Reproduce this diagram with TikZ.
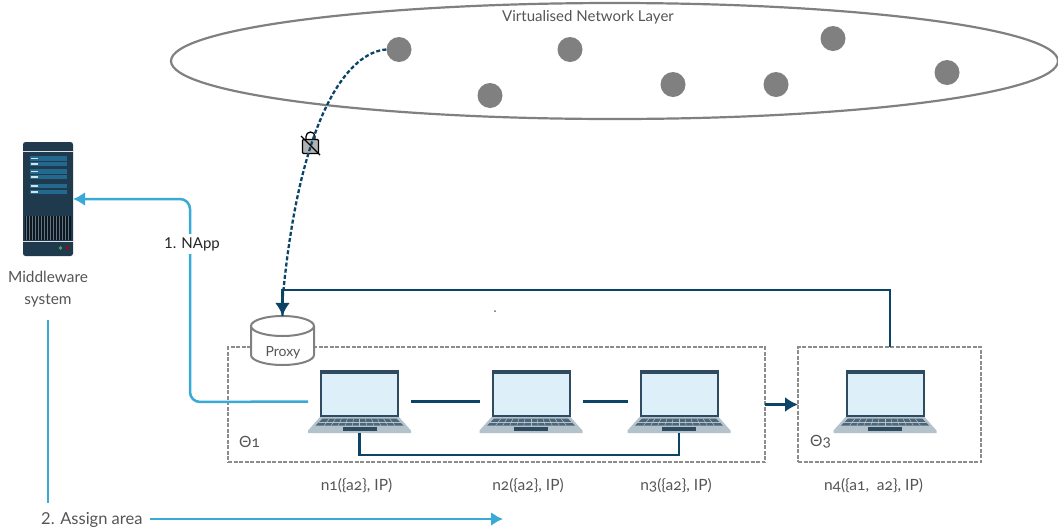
\documentclass[tikz,border=0pt]{standalone}
\usepackage{fontspec}
\setmainfont{Lato}
\newfontfamily\oldnum[Numbers=OldStyle]{Lato}
\usetikzlibrary{arrows.meta,shapes.geometric}
\definecolor{navy}{HTML}{0B4467}
\definecolor{skyb}{HTML}{39A9D6}
\definecolor{greyl}{HTML}{808080}
\definecolor{greyd}{HTML}{8C8C8C}
\definecolor{txt}{HTML}{555555}
\definecolor{lapdark}{HTML}{2F4B62}
\definecolor{lapscr}{HTML}{DDEFF8}
\definecolor{lapbase}{HTML}{B4C2CB}
\definecolor{srv}{HTML}{1F3A4D}
\definecolor{srvb}{HTML}{22688F}
\newcommand{\lapdraw}[1]{%
  \begin{scope}[shift={(#1)}]
    \fill[lapdark] (-39.5,-31.5) rectangle (39.5,15.5);
    \fill[lapscr] (-37.5,-28) rectangle (37.5,13.5);
    \fill[lapbase] (-39.5,15.5) -- (39.5,15.5) -- (51.5,29) -- (51.5,31.5) -- (-51.5,31.5) -- (-51.5,29) -- cycle;
    \fill[lapdark!85!white] (-37,17) -- (37,17) -- (44,24) -- (-44,24) -- cycle;
    \foreach \k in {-30,-24,...,30} \draw[lapbase,line width=.5pt] (\k,17) -- ({\k*1.18},24);
    \draw[lapbase,line width=.5pt] (-41,20.5) -- (41,20.5);
    \fill[lapdark] (-17,25) rectangle (17,29.5);
  \end{scope}}
\tikzset{
  lap/.style={minimum width=103pt,minimum height=63pt,inner sep=0pt,outer sep=0pt},
  areabox/.style={draw=greyd,line width=2.2pt,dash pattern=on 4pt off 1.5pt,inner sep=0pt,outer sep=0pt},
  netdot/.style={circle,fill=greyl,minimum size=25pt,inner sep=0pt},
  lbl/.style={text=txt,font=\oldnum\fontsize{15.5}{18}\selectfont,inner sep=0pt},
  navyline/.style={draw=navy,line width=2.3pt},
  bluearrow/.style={draw=skyb,line width=2.5pt,-{Latex[length=12pt,width=14pt]}},
  navyarrow/.style={draw=navy,line width=2.3pt,-{Latex[length=13pt,width=15pt]}},
}
\begin{document}
\begin{tikzpicture}[x=1pt,y=-1pt]
\useasboundingbox (0,0) rectangle (1058,531);
% network layer
\node[draw=greyl,line width=2.2pt,ellipse,minimum width=887pt,minimum height=116pt,inner sep=0pt] (layer) at (614.5,61) {};
\node[lbl,font=\fontsize{15}{18}\selectfont] (layerlabel) at (588,17) {Virtualised Network Layer};
\node[netdot] (v1) at (399,49.5) {};
\node[netdot] (v2) at (570,49.5) {};
\node[netdot] (v3) at (490,95.5) {};
\node[netdot] (v4) at (673,84.5) {};
\node[netdot] (v5) at (776,84.5) {};
\node[netdot] (v6) at (833,38.5) {};
\node[netdot] (v7) at (947,72.5) {};
% areas
\node[areabox,minimum width=537pt,minimum height=115pt] (t1) at (496.5,404.5) {};
\node[areabox,minimum width=183pt,minimum height=115pt] (t3) at (889.5,404.5) {};
\node[lbl,anchor=west] (t1l) at (239,441.5) {Θ1};
\node[lbl,anchor=west] (t3l) at (810,441.5) {Θ3};
% proxy
\filldraw[draw=greyl,fill=white,line width=2pt] (251,326) -- (251,355) arc[start angle=-180,end angle=-360,x radius=31.5,y radius=10] -- (314,326);
\filldraw[draw=greyl,fill=white,line width=2pt] (282.5,326) ellipse[x radius=31.5,y radius=10];
\node[minimum width=63pt,minimum height=49pt,inner sep=0pt] (proxy) at (282.5,340.5) {};
\node[lbl,font=\fontsize{14}{16}\selectfont] (proxyl) at (283,352.5) {Proxy};
% laptops
\node[lap] (n1) at (359.5,401.5) {};
\node[lap] (n2) at (531,401.5) {};
\node[lap] (n3) at (679,401.5) {};
\node[lap] (n4) at (885,401.5) {};
\lapdraw{n1}\lapdraw{n2}\lapdraw{n3}\lapdraw{n4}
\node[lbl] (n1l) at (356.5,486) {n1(\{a2\}, IP)};
\node[lbl] (n2l) at (528,486) {n2(\{a2\}, IP)};
\node[lbl] (n3l) at (676,486) {n3(\{a2\}, IP)};
\node[lbl] (n4l) at (873.5,486) {n4(\{a1,\ \ a2\}, IP)};
% server
\node[minimum width=50pt,minimum height=114pt,inner sep=0pt,outer sep=0pt] (server) at (48,199) {};
\fill[srv,rounded corners=2.5pt] (23,142) rectangle (73,256);
\draw[white!85!srv,line width=.8pt] (23,151.5) -- (73,151.5);
\draw[white!85!srv,line width=.8pt] (23,241) -- (73,241);
\foreach \y in {158.5,164,171.5,177,186,192}{
  \fill[srvb] (30,\y-2.2) rectangle (67,\y+2.2);
  \fill[white!80!srvb] (31,\y-.6) rectangle (37.5,\y+.6);
}
\fill[black!60!srv] (25,216) rectangle (71,240);
\foreach \k in {0,...,14} \draw[srv!70!white,line width=.4pt] (26.5+\k*3,216) -- (26.5+\k*3,240);
\fill[green!45!srv!80!white] (60.5,248) circle (1.8pt);
\fill[red!70!black] (67.5,248) circle (1.8pt);
\node[lbl,align=center,font=\fontsize{15.4}{22}\selectfont] (mw) at (48,289.5) {Middleware\\system};
% lock
\node[minimum size=17pt,inner sep=0pt] (lock) at (310.5,147) {};
\draw[black,line width=1.3pt] (306,140) -- (306,136.5) arc[start angle=-180,end angle=0,radius=4.5] -- (315,140);
\filldraw[draw=black,fill=black!30,line width=1.3pt,rounded corners=1pt] (302.5,139.5) rectangle (318.5,153.5);
% connectors
\draw[navy,line width=2.3pt,dash pattern=on 4pt off 2.2pt] (v1.west) .. controls (350,52) and (300,110) .. (282.5,300) -- (proxy.north);
\draw[black,line width=1.4pt] (301,136) -- (320,155);
\draw[navyline] (n1.east) -- (n2.west);
\draw[navyline] (n2.east) -- (n3.west);
\draw[navyline] (n1.south) -- (359.5,455) -| (n3.south);
\draw[navyarrow] (t1.east) -- (t3.west);
\coordinate (t3top) at (890,347);
\draw[navyarrow] (t3top) -- (890,290) -- (282.5,290) -- (proxy.north);
\draw[skyb,line width=2.5pt,rounded corners=10pt,-{Latex[length=12pt,width=14pt]}] (n1.west) -- (190,402) -- (190,199) -- (server.east);
\node[fill=white,text=black!85,font=\fontsize{15}{18}\selectfont,inner sep=3pt] (napp) at (192,244) {1. NApp};
\coordinate (mwdown) at (48,320);
\coordinate (mwend) at (48,503);
\draw[skyb,line width=2.5pt] (mwdown) -- (mwend);
\node[text=txt,font=\fontsize{16.5}{19}\selectfont,inner sep=0pt,anchor=west] (assign) at (41,520) {2. Assign area};
\coordinate (assignend) at (503,519);
\coordinate (assignstart) at (150,519);
\draw[bluearrow] (assignstart) -- (assignend);
% speck
\fill[black!60] (495,311) circle (1pt);
\end{tikzpicture}
\end{document}
